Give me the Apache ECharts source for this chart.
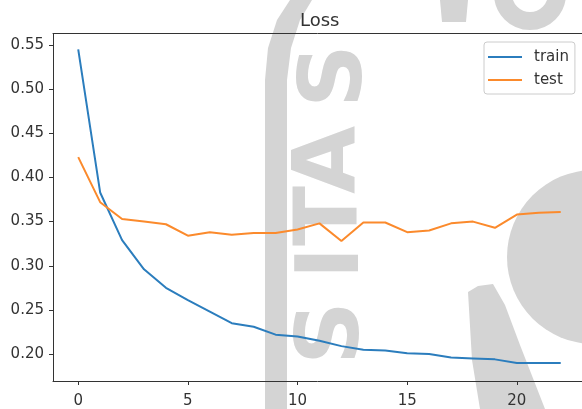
<!DOCTYPE html>
<html>
<head>
<meta charset="utf-8">
<script src="https://cdn.jsdelivr.net/npm/echarts@6/dist/echarts.min.js"></script>
<style>
html,body{margin:0;padding:0;background:#fff;}
#chart{width:582px;height:409px;}
</style>
</head>
<body>
<div id="chart"></div>
<script>
const epochs = [0,1,2,3,4,5,6,7,8,9,10,11,12,13,14,15,16,17,18,19,20,21,22];
const trainLoss = [0.545,0.383,0.329,0.296,0.275,0.261,0.248,0.235,0.231,0.222,0.220,0.215,0.209,0.205,0.204,0.201,0.200,0.196,0.195,0.194,0.190,0.190,0.190];
const testLoss = [0.423,0.372,0.353,0.350,0.347,0.334,0.338,0.335,0.337,0.337,0.341,0.348,0.328,0.349,0.349,0.338,0.340,0.348,0.350,0.343,0.358,0.360,0.361];
const xTicks = [0,5,10,15,20];
const yTicks = [0.20,0.25,0.30,0.35,0.40,0.45,0.50,0.55];
const seriesNames = ['train','test'];
const titleText = 'Loss';
const watermarkLetters = ['S','I','T','A','S'];

const chart = echarts.init(document.getElementById('chart'), null, {renderer:'canvas'});
const font = 'DejaVu Sans';
const wmColor = '#d4d4d4';
const wmPos = [[335,333],[335,263],[333,216],[332,160],[338,76]];
const wmGraphics = watermarkLetters.map((ch,i)=>({
  type:'text', x:wmPos[i][0], y:wmPos[i][1], rotation:Math.PI/2, z:-10,
  style:{text:ch, fontFamily:'DejaVu Sans', fontWeight:'bold', fontSize:88, fill:wmColor, align:'center', verticalAlign:'middle'}
}));
wmGraphics.push(
  {type:'polygon', z:-10, shape:{points:[[265,409],[265,80],[268,48],[277,20],[290,0],[312,0],[300,20],[291,48],[287,80],[287,409]]}, style:{fill:wmColor}},
  {type:'circle', z:-10, shape:{cx:594,cy:257,r:87}, style:{fill:wmColor}},
  {type:'polygon', z:-10, shape:{points:[[468,292],[478,286],[493,284],[505,305],[520,345],[545,409],[480,409],[472,360]]}, style:{fill:wmColor}},
  {type:'arc', z:-10, shape:{cx:530,cy:-6,r:27,startAngle:0,endAngle:Math.PI}, style:{stroke:wmColor,lineWidth:18,fill:null}},
  {type:'polygon', z:-10, shape:{points:[[440,0],[468,0],[466,22],[442,22]]}, style:{fill:wmColor}}
);

chart.setOption({
  animation:false,
  backgroundColor:'#ffffff',
  graphic:wmGraphics,
  title:{text:titleText,left:295,top:7,textStyle:{fontFamily:font,fontSize:18,fontWeight:'normal',color:'#333'}},
  legend:{
    data:seriesNames,orient:'vertical',left:484,top:42,
    icon:'rect',itemWidth:34,itemHeight:2,itemGap:5,
    padding:[6,6,5,4],borderColor:'#cccccc',borderWidth:1,borderRadius:3,
    backgroundColor:'#ffffff',
    textStyle:{fontFamily:font,fontSize:15,color:'#333',lineHeight:18,padding:[0,0,0,7]}
  },
  grid:{left:53,top:33.5,right:0,bottom:28,show:false},
  xAxis:[{
    type:'value',min:-1.15,max:22.97,position:'bottom',
    axisLine:{show:true,onZero:false,lineStyle:{color:'#333',width:1}},
    splitLine:{show:false},
    axisTick:{show:true,length:4,lineStyle:{color:'#333'},customValues:xTicks},
    axisLabel:{fontFamily:font,fontSize:15,color:'#333',margin:13,customValues:xTicks,formatter:v=>String(v)}
  },{
    type:'value',min:-1.15,max:22.97,position:'top',
    axisLine:{show:true,onZero:false,lineStyle:{color:'#333',width:1}},
    splitLine:{show:false},axisTick:{show:false},axisLabel:{show:false}
  }],
  yAxis:{
    type:'value',min:0.1695,max:0.563,
    axisLine:{show:true,onZero:false,lineStyle:{color:'#333',width:1}},
    splitLine:{show:false},
    axisTick:{show:true,length:4,lineStyle:{color:'#333'},customValues:yTicks},
    axisLabel:{fontFamily:font,fontSize:15,color:'#333',margin:9,customValues:yTicks,formatter:v=>v.toFixed(2)}
  },
  series:[
    {name:seriesNames[0],type:'line',xAxisIndex:0,data:epochs.map((e,i)=>[e,trainLoss[i]]),showSymbol:false,symbol:'none',
     lineStyle:{color:'#2b7dbd',width:2},itemStyle:{color:'#2b7dbd'},z:3},
    {name:seriesNames[1],type:'line',xAxisIndex:0,data:epochs.map((e,i)=>[e,testLoss[i]]),showSymbol:false,symbol:'none',
     lineStyle:{color:'#fb8a2c',width:2},itemStyle:{color:'#fb8a2c'},z:3}
  ]
});
</script>
</body>
</html>
